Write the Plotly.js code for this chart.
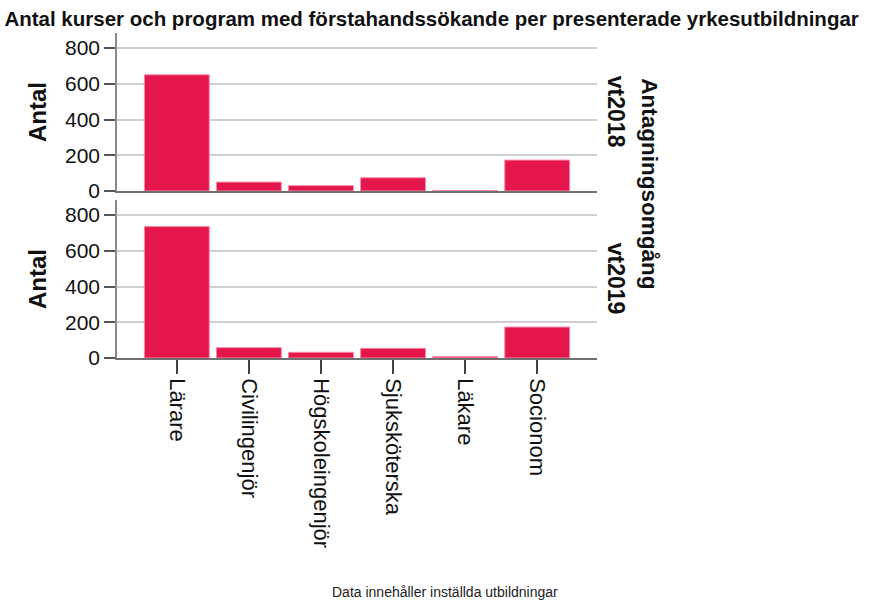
<!DOCTYPE html>
<html><head><meta charset="utf-8">
<script src="https://cdn.plot.ly/plotly-3.0.1.min.js"></script>
<style>body{margin:0;background:#fff}#chart{width:880px;height:603px}</style>
</head><body><div id="chart"></div>
<script>
const categories = ["Lärare","Civilingenjör","Högskoleingenjör","Sjuksköterska","Läkare","Socionom"];
const vt2018 = [650, 50, 30, 74, 3, 173];
const vt2019 = [735, 58, 32, 54, 7, 173];
const yTicks = [0, 200, 400, 600, 800];
const panelLabels = ["vt2018", "vt2019"];

const barColor = "#E5164B";
const lineColor = "#F58AA5";
const font = "Liberation Sans, Arial, sans-serif";

const traces = [
  {type:"bar", x:categories, y:vt2018, xaxis:"x", yaxis:"y", width:0.9,
   marker:{color:barColor, line:{color:lineColor, width:1}}, hoverinfo:"x+y"},
  {type:"bar", x:categories, y:vt2019, xaxis:"x2", yaxis:"y2", width:0.9,
   marker:{color:barColor, line:{color:lineColor, width:1}}, hoverinfo:"x+y"}
];

const yCommon = {
  range:[0, 884], tickvals:yTicks, ticktext:yTicks.map(String),
  showgrid:true, gridcolor:"#cfcfcf", gridwidth:1.5,
  zeroline:false, showline:true, linecolor:"#8a8a8a", linewidth:1.5,
  ticks:"outside", ticklen:11, tickcolor:"#555", tickwidth:1.5,
  tickfont:{family:font, size:21, color:"#111"},
  title:{text:"<b>Antal</b>", font:{family:font, size:24, color:"#111"}, standoff:12}
};
const xCommon = {
  type:"category", range:[-0.83, 5.83], showline:true, linecolor:"#707070", linewidth:1.5,
  showgrid:false, zeroline:false, fixedrange:true
};

const layout = {
  width:880, height:603,
  paper_bgcolor:"#fff", plot_bgcolor:"#fff",
  margin:{l:117, r:283, t:33, b:245},
  showlegend:false, bargap:0.1,
  font:{family:font, color:"#111"},
  title:{text:"<b>Antal kurser och program med förstahandssökande per presenterade yrkesutbildningar</b>",
         font:{family:font, size:20.5, color:"#111"},
         x:0.005, xanchor:"left", y:0.968, yanchor:"middle"},
  xaxis:Object.assign({}, xCommon, {anchor:"y", showticklabels:false, ticks:"", matches:"x2"}),
  yaxis:Object.assign({}, yCommon, {domain:[0.5138, 1], anchor:"x"}),
  xaxis2:Object.assign({}, xCommon, {anchor:"y2", ticks:"outside", ticklen:14, tickcolor:"#444", tickwidth:1.5,
         tickangle:90, tickfont:{family:font, size:22, color:"#111"}}),
  yaxis2:Object.assign({}, yCommon, {domain:[0, 0.4862], anchor:"x2"}),
  annotations:[
    {text:"<b>"+panelLabels[0]+"</b>", xref:"paper", yref:"y domain", x:1.04, y:0.5, textangle:90,
     showarrow:false, font:{family:font, size:23, color:"#111"}, xanchor:"center", yanchor:"middle"},
    {text:"<b>"+panelLabels[1]+"</b>", xref:"paper", yref:"y2 domain", x:1.04, y:0.5, textangle:90,
     showarrow:false, font:{family:font, size:23, color:"#111"}, xanchor:"center", yanchor:"middle"},
    {text:"<b>Antagningsomgång</b>", xref:"paper", yref:"paper", x:1.11, y:0.535, textangle:90,
     showarrow:false, font:{family:font, size:22.5, color:"#111"}, xanchor:"center", yanchor:"middle"},
    {text:"Data innehåller inställda utbildningar", xref:"paper", yref:"paper", x:0.683, y:-0.72,
     showarrow:false, font:{family:font, size:14, color:"#222"},
     xanchor:"center", yanchor:"middle"}
  ]
};

Plotly.newPlot("chart", traces, layout, {displayModeBar:false, responsive:false});
</script>
</body></html>
